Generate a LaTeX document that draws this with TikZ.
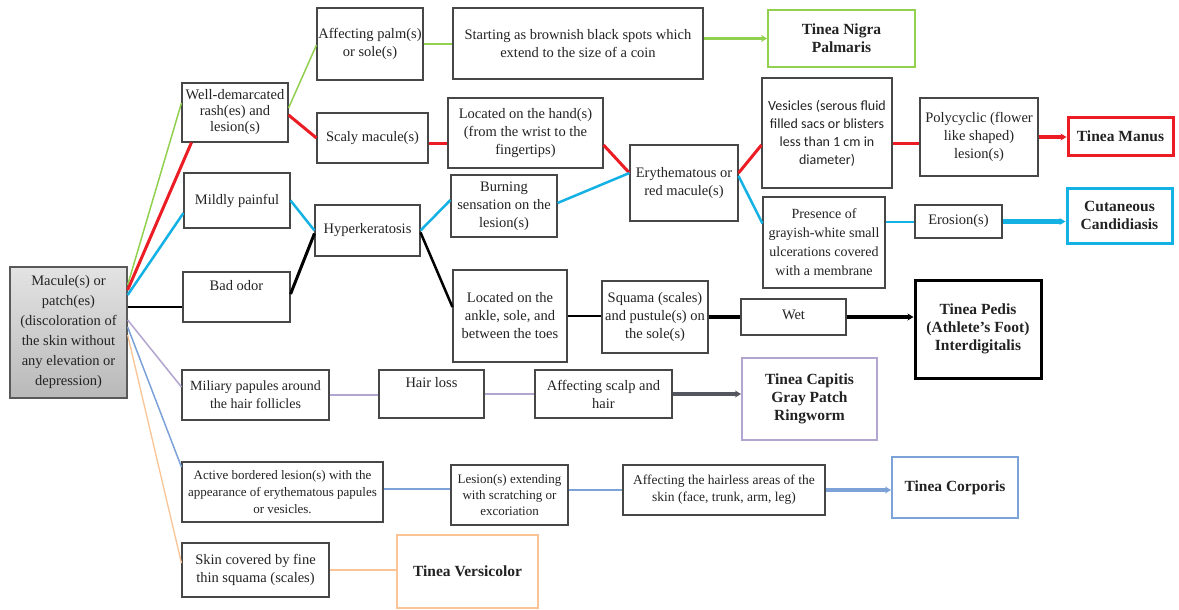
\documentclass[tikz,border=0pt]{standalone}
\usepackage{fontspec}
\setmainfont{Liberation Serif}
\newfontfamily\calib{Carlito}
\usetikzlibrary{arrows.meta}
\definecolor{cgreen}{RGB}{146,208,80}
\definecolor{cred}{RGB}{235,28,36}
\definecolor{ccyan}{RGB}{20,178,228}
\definecolor{cpurple}{RGB}{178,165,208}
\definecolor{cblue}{RGB}{125,162,215}
\definecolor{corange}{RGB}{250,196,150}
\definecolor{cdark}{RGB}{85,85,95}
\definecolor{ctext}{RGB}{35,35,35}
\newcommand\mybox[7][]{%
 \pgfmathsetmacro\mbw{#5-#3}\pgfmathsetmacro\mbh{#6-#4}%
 \pgfmathsetmacro\mbx{(#3+#5)/2}\pgfmathsetmacro\mby{(#4+#6)/2}%
 \node[box,minimum width=\mbw pt,minimum height=\mbh pt,#1] (#2) at (\mbx,\mby) {#7};}
\tikzset{
 box/.style={draw=black!72,line width=1.1pt,fill=white,rectangle,align=center,inner sep=1pt,text=ctext,font=\fontsize{14.5}{18}\selectfont},
 dz/.style={font=\bfseries\fontsize{15.5}{18}\selectfont},
 tip/.style={-{Stealth[length=6pt,width=7pt]}},
}
\begin{document}
\begin{tikzpicture}[x=1pt,y=-1pt]
\useasboundingbox (0,0) rectangle (1179,610);
\fill[white] (0,0) rectangle (1179,610);

% root
\mybox[top color=gray!22,bottom color=gray!55,draw=black!65,line width=1.3pt,font=\fontsize{14.5}{20}\selectfont]{root}{10}{267}{127}{398}{Macule(s) or\\ patch(es)\\ (discoloration of\\ the skin without\\ any elevation or\\ depression)}

% first column
\mybox[font=\fontsize{14.5}{16}\selectfont]{well}{182}{83}{288}{142}{Well-demarcated\\ rash(es) and\\ lesion(s)}
\mybox{mild}{184}{173}{290}{228}{Mildly painful}
\mybox{bad}{183}{272}{290}{322}{Bad odor\\ \strut}
\mybox[font=\fontsize{14}{18}\selectfont]{mil}{182}{370}{329}{420}{Miliary papules around\\ the hair follicles}
\mybox[font=\fontsize{13}{17}\selectfont]{act}{182}{462}{383}{522}{Active bordered lesion(s) with the\\ appearance of erythematous papules\\ or vesicles.}
\mybox{skin}{182}{543}{329}{597}{Skin covered by fine\\ thin squama (scales)}

% second column
\mybox{palm}{317}{8}{423}{80}{Affecting palm(s)\\ or sole(s)}
\mybox{scaly}{317}{113}{428}{163}{Scaly macule(s)}
\mybox{hyper}{315}{205}{420}{256}{Hyperkeratosis}
\mybox{hair}{379}{370}{484}{418}{Hair loss\\ \strut}

% third column
\mybox{start}{453}{8}{703}{79}{Starting as brownish black spots which\\ extend to the size of a coin}
\mybox{hand}{448}{98}{603}{168}{Located on the hand(s)\\ (from the wrist to the\\ fingertips)}
\mybox{burn}{451}{175}{557}{237}{Burning\\ sensation on the\\ lesion(s)}
\mybox{ankle}{453}{270}{567}{362}{Located on the\\ ankle, sole, and\\ between the toes}
\mybox{scalp}{535}{370}{672}{418}{Affecting scalp and\\ hair}
\mybox[font=\fontsize{13}{16}\selectfont]{les}{451}{465}{568}{525}{Lesion(s) extending\\ with scratching or\\ excoriation}

% fourth column
\mybox{ery}{630}{145}{738}{221}{Erythematous or\\ red macule(s)}
\mybox{squama}{602}{281}{708}{353}{Squama (scales)\\ and pustule(s) on\\ the sole(s)}
\mybox[font=\fontsize{13.5}{17}\selectfont]{hairless}{623}{465}{825}{515}{Affecting the hairless areas of the\\ skin (face, trunk, arm, leg)}

% fifth column
\mybox[font=\calib\fontsize{14}{18}\selectfont]{ves}{762}{78}{892}{188}{Vesicles (serous fluid\\ filled sacs or blisters\\ less than 1 cm in\\ diameter)}
\mybox[font=\fontsize{14}{19}\selectfont]{pres}{763}{197}{885}{288}{Presence of\\ grayish-white small\\ ulcerations covered\\ with a membrane}
\mybox{wet}{741}{299}{846}{335}{\raisebox{4pt}{Wet}}
\mybox{poly}{920}{98}{1038}{176}{Polycyclic (flower\\ like shaped)\\ lesion(s)}
\mybox{eros}{915}{205}{1002}{238}{Erosion(s)}

% diagnoses
\mybox[dz,draw=cgreen,line width=1.8pt]{nigra}{768}{10}{915}{67}{Tinea Nigra\\ Palmaris}
\mybox[dz,draw=cred,line width=3pt]{manus}{1068}{117}{1173}{155}{Tinea Manus}
\mybox[dz,draw=ccyan,line width=3pt]{cand}{1067}{188}{1172}{243}{Cutaneous\\ Candidiasis}
\mybox[dz,draw=black,line width=3pt]{pedis}{915}{280}{1041}{378}{Tinea Pedis\\ (Athlete's Foot)\\ Interdigitalis}
\mybox[dz,draw=cpurple,line width=2pt]{capitis}{742}{358}{877}{440}{Tinea Capitis\\ Gray Patch\\ Ringworm}
\mybox[dz,draw=cblue,line width=2pt]{corp}{892}{457}{1018}{518}{Tinea Corporis}
\mybox[dz,draw=corange,line width=1.5pt]{vers}{397}{535}{538}{608}{Tinea Versicolor}

% connectors from root
\draw[cgreen,line width=1.5pt] ([yshift=47.5pt]root.east) -- ([yshift=9.5pt]well.west);
\draw[cred,line width=3pt] ([yshift=42.5pt]root.east) -- ([xshift=10pt]well.south west);
\draw[ccyan,line width=2.5pt] ([yshift=37.5pt]root.east) -- ([yshift=-12.5pt]mild.west);
\draw[black,line width=1.2pt] ([yshift=25.5pt]root.east) -- ([yshift=-10pt]bad.west);
\draw[cpurple,line width=1.5pt] ([yshift=12.5pt]root.east) -- ([yshift=8pt]mil.west);
\draw[cblue,line width=1.5pt] ([yshift=5.5pt]root.east) -- ([yshift=25pt]act.west);
\draw[corange,line width=1.3pt] ([yshift=-2.5pt]root.east) -- ([yshift=7pt]skin.west);

% green branch
\draw[cgreen,line width=1.5pt] ([yshift=4.5pt]well.east) -- ([yshift=-1pt]palm.west);
\draw[cgreen,line width=1.5pt] (palm.east) -- (palm.east -| start.west);
\draw[cgreen,line width=3pt,tip] (nigra.west -| start.east) -- (nigra.west);

% red branch
\draw[cred,line width=3pt] ([yshift=-2.5pt]well.east) -- (scaly.west);
\coordinate (s1) at ([yshift=-5pt]scaly.east);
\draw[cred,line width=3pt] (s1) -- (s1 -| hand.west);
\draw[cred,line width=3pt] ([yshift=-12pt]hand.east) -- ([yshift=10pt]ery.west);
\draw[cred,line width=3pt] ([yshift=10pt]ery.east) -- ([yshift=-12pt]ves.west);
\coordinate (v1) at ([yshift=-10pt]ves.east);
\draw[cred,line width=3pt] (v1) -- (v1 -| poly.west);
\draw[cred,line width=4pt,tip] (poly.east) -- (poly.east -| manus.west);

% cyan branch
\draw[ccyan,line width=2.5pt] (mild.east) -- (hyper.west);
\draw[ccyan,line width=2.5pt] (hyper.east) -- ([yshift=6pt]burn.west);
\draw[ccyan,line width=2.5pt] ([yshift=3pt]burn.east) -- ([yshift=10pt]ery.west);
\draw[ccyan,line width=2.5pt] ([yshift=7pt]ery.east) -- ([yshift=19pt]pres.west);
\draw[ccyan,line width=2pt] (eros.west -| pres.east) -- (eros.west);
\draw[ccyan,line width=4.5pt,tip] (eros.east) -- (eros.east -| cand.west);

% black branch
\draw[black,line width=3pt] ([yshift=3pt]bad.east) -- ([yshift=-3pt]hyper.west);
\draw[black,line width=2.5pt] ([yshift=-2pt]hyper.east) -- ([yshift=9pt]ankle.west);
\draw[black,line width=2.5pt] (ankle.east) -- (ankle.east -| squama.west);
\draw[black,line width=3.5pt] (squama.east) -- (squama.east -| wet.west);
\draw[black,line width=4pt,tip] (wet.east) -- (wet.east -| pedis.west);

% purple branch
\draw[cpurple,line width=2pt] (mil.east) -- (mil.east -| hair.west);
\draw[cpurple,line width=2pt] (hair.east) -- (hair.east -| scalp.west);
\draw[cdark,line width=3.5pt,tip] (scalp.east) -- (scalp.east -| capitis.west);

% blue branch
\coordinate (a1) at ([yshift=3pt]act.east);
\draw[cblue,line width=1.6pt] (a1) -- (a1 -| les.west);
\draw[cblue,line width=1.6pt] (hairless.west -| les.east) -- (hairless.west);
\draw[cblue,line width=3.5pt,tip] (hairless.east) -- (hairless.east -| corp.west);

% orange branch
\draw[corange,line width=2pt] (skin.east) -- (skin.east -| vers.west);
\end{tikzpicture}
\end{document}
